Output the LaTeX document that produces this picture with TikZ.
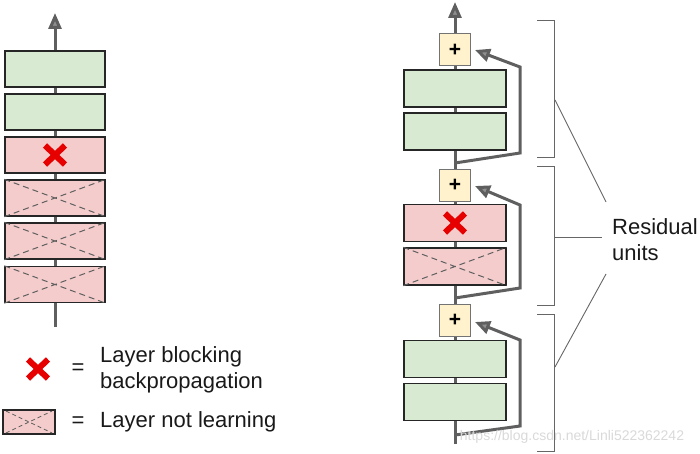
\documentclass[tikz,border=0pt]{standalone}
\usepackage{fontspec}
\setmainfont{Liberation Sans}
\usetikzlibrary{arrows.meta}
\definecolor{gfill}{HTML}{D9EAD3}
\definecolor{pfill}{HTML}{F4CCCC}
\definecolor{yfill}{HTML}{FFF2CC}
\definecolor{flow}{HTML}{5F5F5F}
\definecolor{xred}{HTML}{E60000}
\tikzset{
  layer/.style={draw=black!85, line width=1.4pt, minimum width=100pt, minimum height=36pt, inner sep=0pt},
  rlayer/.style={layer, minimum width=102pt, minimum height=37pt},
  green/.style={fill=gfill},
  pink/.style={fill=pfill},
  plusbox/.style={draw=black!55, line width=1pt, fill=yfill, minimum width=31pt, minimum height=32pt, inner sep=0pt, font=\fontsize{21}{21}\selectfont\bfseries},
  flowline/.style={draw=flow, line width=3pt},
  uparrow/.style={flowline, -{Triangle[length=16pt,width=13pt,fill=flow!70]}},
  skiparrow/.style={flowline, line join=miter, -{Triangle[length=15pt,width=13pt,fill=flow!70]}},
  dashx/.style={draw=flow, line width=1pt, dash pattern=on 6pt off 4pt},
  bracket/.style={draw=black!60, line width=1pt},
  lbl/.style={font=\fontsize{22}{26}\selectfont, inner sep=0pt, align=left, text=black!90},
  redx/.pic={\draw[xred, line width=6pt] (-10,-9.5)--(10,9.5) (-10,9.5)--(10,-9.5);}
}
\begin{document}
\begin{tikzpicture}[x=1pt,y=-1pt]
\useasboundingbox (0,0) rectangle (700,454);
% ---------------- left column ----------------
\coordinate (ltop) at (55,13);
\coordinate (lbot) at (55,327);
\node[layer,green] (l1) at (55,69) {};
\node[layer,green] (l2) at (55,112) {};
\node[layer,pink]  (l3) at (55,155) {};
\node[layer,pink]  (l4) at (55,198) {};
\node[layer,pink]  (l5) at (55,241) {};
\node[layer,pink]  (l6) at (55,284.5) {};
\pic at (l3) {redx};
\foreach \n in {l4,l5,l6}{
  \draw[dashx] (\n.north west) -- (\n.south east) (\n.south west) -- (\n.north east);
}
\draw[flowline] (lbot) -- (l6.south);
\draw[flowline] (l6.north) -- (l5.south);
\draw[flowline] (l5.north) -- (l4.south);
\draw[flowline] (l4.north) -- (l3.south);
\draw[flowline] (l3.north) -- (l2.south);
\draw[flowline] (l2.north) -- (l1.south);
\draw[uparrow] (l1.north) -- (ltop);
% ---------------- legend ----------------
\pic at (38,369) {redx};
\node[lbl] (eq1) at (78,369) {=};
\node[lbl, anchor=west] (t1) at (100,370) {Layer blocking\\backpropagation};
\node[draw=black!85, line width=1.3pt, fill=pfill, minimum width=52pt, minimum height=24pt, inner sep=0pt] (lg) at (29,422) {};
\draw[dashx, line width=0.8pt, dash pattern=on 4pt off 3pt, shorten <=4pt, shorten >=4pt] (lg.south west) -- (lg.north east);
\draw[dashx, line width=0.8pt, dash pattern=on 4pt off 3pt, shorten <=4pt, shorten >=4pt] (lg.north west) -- (lg.south east);
\node[lbl] (eq2) at (78,422) {=};
\node[lbl, anchor=west] (t2) at (100,422) {Layer not learning};
% ---------------- right column ----------------
\coordinate (rtop) at (455,2);
\coordinate (rbot) at (455,444);
\node[plusbox] (p1) at (455,50) {+};
\node[rlayer,green] (g1) at (455,88.5) {};
\node[rlayer,green] (g2) at (455,131.5) {};
\coordinate (b1) at (455,163);
\node[plusbox] (p2) at (455,185.5) {+};
\node[rlayer,pink] (r1) at (455,223) {};
\node[rlayer,pink] (d1) at (455,266.5) {};
\coordinate (b2) at (455,298);
\node[plusbox] (p3) at (455,320.5) {+};
\node[rlayer,green] (g3) at (455,359) {};
\node[rlayer,green] (g4) at (455,402) {};
\coordinate (b3) at (455,435);
\pic at (r1) {redx};
\draw[dashx] (d1.north west) -- (d1.south east) (d1.south west) -- (d1.north east);
\draw[flowline] (rbot) -- (g4.south);
\draw[flowline] (g4.north) -- (g3.south);
\draw[flowline] (g3.north) -- (p3.south);
\draw[flowline] (p3.north) -- (d1.south);
\draw[flowline] (d1.north) -- (r1.south);
\draw[flowline] (r1.north) -- (p2.south);
\draw[flowline] (p2.north) -- (g2.south);
\draw[flowline] (g2.north) -- (g1.south);
\draw[flowline] (g1.north) -- (p1.south);
\draw[uparrow] (p1.north) -- (rtop);
% skip connections
\coordinate (s1a) at (520,153); \coordinate (s1b) at (520,67); \coordinate (s1t) at (475,50);
\coordinate (s2a) at (520,288); \coordinate (s2b) at (520,205); \coordinate (s2t) at (475,186);
\coordinate (s3a) at (520,426); \coordinate (s3b) at (520,340); \coordinate (s3t) at (475,322);
\draw[skiparrow] (b1) -- (s1a) -- (s1b) -- (s1t);
\draw[skiparrow] (b2) -- (s2a) -- (s2b) -- (s2t);
\draw[skiparrow] (b3) -- (s3a) -- (s3b) -- (s3t);
% brackets
\draw[bracket] (537,21) -- (554,21) -- (554,158) -- (537,158);
\draw[bracket] (537,167) -- (554,167) -- (554,305) -- (537,305);
\draw[bracket] (537,314) -- (554,314) -- (554,451) -- (537,451);
\node[lbl, anchor=west] (res) at (612,240) {Residual\\units};
\coordinate (k1) at (555,100);
\coordinate (k2) at (554,237);
\coordinate (k3) at (555,367);
\draw[bracket, line width=0.9pt] (k1) -- (606,202);
\draw[bracket, line width=0.9pt] (k2) -- (602,237);
\draw[bracket, line width=0.9pt] (k3) -- (606,274);
% watermark
\node[font=\fontsize{14}{14}\selectfont, text=black!15, inner sep=0pt] (wm) at (572,437) {https://blog.csdn.net/Linli522362242};
\end{tikzpicture}
\end{document}
